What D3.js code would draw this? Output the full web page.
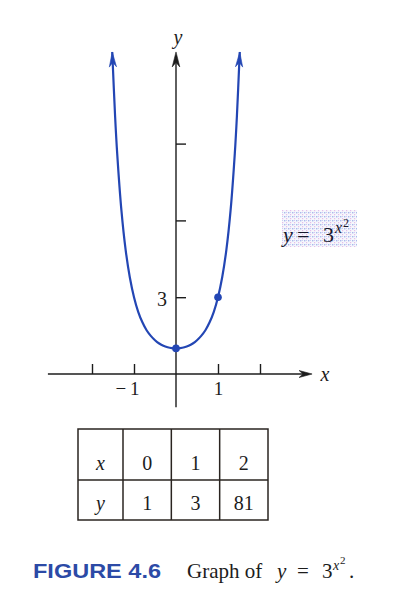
<!DOCTYPE html>
<html><head><meta charset="utf-8">
<script src="https://cdn.jsdelivr.net/npm/d3@7"></script>
<style>body{margin:0;background:#fff}svg{display:block}</style>
</head><body><svg id="c" width="399" height="612"></svg>
<script>
// ---- data ----
const curveX = [-1.518,-1.45,-1.4,-1.3,-1.2,-1.1,-1.0,-0.9,-0.8,-0.7,-0.6,-0.5,-0.4,-0.3,-0.2,-0.1,0,0.1,0.2,0.3,0.4,0.5,0.6,0.7,0.8,0.9,1.0,1.1,1.2,1.3,1.4,1.45,1.518];
const curveY = [12.58,10.07,8.61,6.40,4.86,3.78,3.0,2.43,2.02,1.71,1.49,1.32,1.19,1.10,1.045,1.011,1,1.011,1.045,1.10,1.19,1.32,1.49,1.71,2.02,2.43,3.0,3.78,4.86,6.40,8.61,10.07,12.58];
const pointX = [0, 1];
const pointY = [1, 3];
const xTicks = [-2, -1, 1, 2];
const xTickLabels = {"-1": "\u2212\u20091", "1": "1"};
const yTicks = [3, 6, 9];
const yTickLabels = {"3": "3"};
const tableRowNames = ["x", "y"];
const tableX = [0, 1, 2];
const tableY = [1, 3, 81];

const svg = d3.select("#c");
const blue = "#2346b4";
const ink = "#1c1c1c";
const serif = "'Liberation Serif','DejaVu Serif',serif";

const x = d3.scaleLinear().domain([-3, 3]).range([50, 302]);
const y = d3.scaleLinear().domain([0, 12]).range([374, 66.8]);

// dotted pattern for the label box
const defs = svg.append("defs");
const pat = defs.append("pattern").attr("id","dots").attr("width",4).attr("height",4).attr("patternUnits","userSpaceOnUse");
pat.append("rect").attr("width",4).attr("height",4).attr("fill","#f6f7fc");
pat.append("rect").attr("x",0).attr("y",0).attr("width",1.4).attr("height",1.4).attr("fill","#aab8ec");
pat.append("rect").attr("x",2).attr("y",2).attr("width",1.2).attr("height",1.2).attr("fill","#e6bde9");
pat.append("rect").attr("x",2).attr("y",0).attr("width",1).attr("height",1).attr("fill","#c9d2f2");

// axes lines
const g = svg.append("g");
g.append("line").attr("x1", x(-3.05)).attr("x2", x(3.1)).attr("y1", y(0)).attr("y2", y(0))
  .attr("stroke", ink).attr("stroke-width", 1.4);
g.append("line").attr("x1", x(0)).attr("x2", x(0)).attr("y1", y(-1.3)).attr("y2", y(12.2))
  .attr("stroke", ink).attr("stroke-width", 1.4);

function arrowHead(tipX, tipY, angle, color, len, half) {
  svg.append("path")
    .attr("d", `M0,0 L${-len},${-half} L${-len*0.7},0 L${-len},${half} Z`)
    .attr("transform", `translate(${tipX},${tipY}) rotate(${angle})`)
    .attr("fill", color).attr("stroke", color).attr("stroke-width", 0.6).attr("stroke-linejoin","round");
}
arrowHead(x(3.24), y(0), 0, ink, 13, 3.5);
arrowHead(x(0), y(12.58), -90, ink, 15, 3.8);

// x axis ticks via d3 axis
const xAxis = d3.axisBottom(x).tickValues(xTicks).tickSizeInner(-10).tickSizeOuter(0).tickPadding(6)
  .tickFormat(d => xTickLabels[String(d)] || "");
const xg = svg.append("g").attr("transform", `translate(0,${y(0)})`).call(xAxis);
xg.select(".domain").remove();
xg.selectAll("line").attr("stroke", ink).attr("stroke-width", 1.4);
xg.selectAll("text").style("font-family", serif).style("font-size", "19px").attr("fill", ink)
  .attr("dy", "0.78em")
  .attr("dx", d => d === -1 ? -7 : 0);

// y axis ticks via d3 axis
const yAxis = d3.axisLeft(y).tickValues(yTicks).tickSizeInner(-10).tickSizeOuter(0).tickPadding(9)
  .tickFormat(d => yTickLabels[String(d)] || "");
const yg = svg.append("g").attr("transform", `translate(${x(0)},0)`).call(yAxis);
yg.select(".domain").remove();
yg.selectAll("line").attr("stroke", ink).attr("stroke-width", 1.4);
yg.selectAll("text").style("font-family", serif).style("font-size", "20px").attr("fill", ink).attr("dy", "0.4em");

// axis names
svg.append("text").attr("x", x(0) + 2).attr("y", 44).attr("text-anchor","middle")
  .style("font-family", serif).style("font-style","italic").style("font-size", "20px").attr("fill", ink).text("y");
svg.append("text").attr("x", 325).attr("y", 381).attr("text-anchor","middle")
  .style("font-family", serif).style("font-style","italic").style("font-size", "20px").attr("fill", ink).text("x");

// curve
const pts = curveX.map((v, i) => [v, curveY[i]]);
const line = d3.line().x(d => x(d[0])).y(d => y(d[1])).curve(d3.curveCatmullRom);
svg.append("path").datum(pts)
  .attr("d", line).attr("fill","none").attr("stroke", blue).attr("stroke-width", 2.2);

// curve arrowheads
function endArrow(a, b) {
  const ax = x(a[0]), ay = y(a[1]), bx = x(b[0]), by = y(b[1]);
  const ang = Math.atan2(by - ay, bx - ax) * 180 / Math.PI;
  arrowHead(bx, by, ang, blue, 15, 3.6);
}
endArrow(pts[1], pts[0]);
endArrow(pts[pts.length - 2], pts[pts.length - 1]);

// points
svg.selectAll("circle.pt").data(pointX).enter().append("circle").attr("class","pt")
  .attr("cx", d => x(d)).attr("cy", (d, i) => y(pointY[i])).attr("r", 3.8).attr("fill", blue);

// label box
svg.append("rect").attr("x", 282).attr("y", 210).attr("width", 75).attr("height", 37).attr("fill", "url(#dots)");
const lbl = svg.append("text").attr("y", 242).style("font-family", serif).style("font-size", "22px").attr("fill", "#1a1a2e");
lbl.append("tspan").attr("x", 283).style("font-style","italic").text("y");
lbl.append("tspan").attr("x", 297).attr("textLength", 19).text("=");
lbl.append("tspan").attr("x", 323).text("3");
lbl.append("tspan").attr("x", 335).attr("y", 233).style("font-size", "16px").style("font-style","italic").text("x");
lbl.append("tspan").attr("x", 343).attr("y", 227).style("font-size", "12px").text("2");

// table
const tx0 = 78, tx1 = 123, tx2 = 268;
const rowEdges = [429, 480, 520];
const col = d3.scaleBand().domain(tableX.map(String)).range([tx1, tx2]);
const tg = svg.append("g");
tg.append("rect").attr("x", tx0).attr("y", rowEdges[0]).attr("width", tx2 - tx0).attr("height", rowEdges[2] - rowEdges[0])
  .attr("fill","none").attr("stroke", "#2a2420").attr("stroke-width", 1.5);
tg.append("line").attr("x1", tx0).attr("x2", tx2).attr("y1", rowEdges[1]).attr("y2", rowEdges[1]).attr("stroke","#2a2420").attr("stroke-width",1.5);
[tx1].concat(tableX.slice(1).map(v => col(String(v)))).forEach(cx => {
  tg.append("line").attr("x1", cx).attr("x2", cx).attr("y1", rowEdges[0]).attr("y2", rowEdges[2]).attr("stroke","#2a2420").attr("stroke-width",1.5);
});
const rowBase = [470, 510];
tableRowNames.forEach((nm, r) => {
  tg.append("text").attr("x", (tx0 + tx1) / 2).attr("y", rowBase[r]).attr("text-anchor","middle")
    .style("font-family", serif).style("font-style","italic").style("font-size", "20px").attr("fill", ink).text(nm);
});
tg.selectAll("text.r0").data(tableX).enter().append("text").attr("class","r0")
  .attr("x", d => col(String(d)) + col.bandwidth() / 2).attr("y", rowBase[0]).attr("text-anchor","middle")
  .style("font-family", serif).style("font-size", "20px").attr("fill", ink).text(d => d);
tg.selectAll("text.r1").data(tableY).enter().append("text").attr("class","r1")
  .attr("x", (d, i) => col(String(tableX[i])) + col.bandwidth() / 2).attr("y", rowBase[1]).attr("text-anchor","middle")
  .style("font-family", serif).style("font-size", "20px").attr("fill", ink).text(d => d);

// caption
svg.append("text").attr("x", 33).attr("y", 578).style("font-family","'Liberation Sans',Arial,sans-serif")
  .style("font-weight","bold").style("font-size", "20px").attr("fill", "#2c4aa6")
  .attr("textLength", 128).attr("lengthAdjust","spacingAndGlyphs").text("FIGURE 4.6");
const cap = svg.append("text").attr("y", 578).style("font-family", serif).style("font-size", "21px").attr("fill", ink);
cap.append("tspan").attr("x", 187).text("Graph of");
cap.append("tspan").attr("x", 277).style("font-style","italic").text("y");
cap.append("tspan").attr("x", 297).attr("textLength", 20).text("=");
cap.append("tspan").attr("x", 322).text("3");
cap.append("tspan").attr("x", 333).attr("y", 570).style("font-size", "14px").style("font-style","italic").text("x");
cap.append("tspan").attr("x", 340).attr("y", 564).style("font-size", "11px").text("2");
cap.append("tspan").attr("x", 349).attr("y", 578).text(".");
</script></body></html>
